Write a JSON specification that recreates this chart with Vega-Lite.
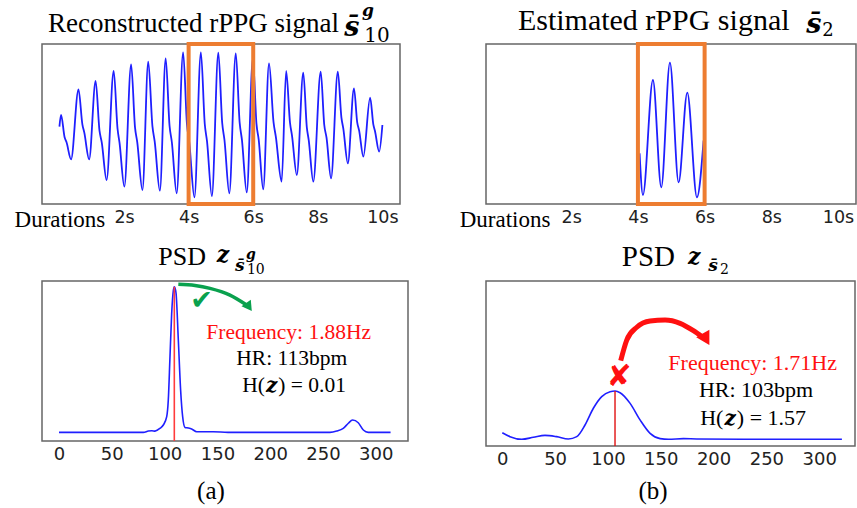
{
  "$schema": "https://vega.github.io/schema/vega-lite/v6.json",
  "background": "white",
  "padding": {"left": 13, "top": 0, "right": 2, "bottom": 2},
  "bounds": "flush",
  "columns": 2,
  "spacing": {"row": 77, "column": 78},
  "config": {
    "view": {"stroke": "#666666", "strokeWidth": 1.5},
    "axis": {"grid": false, "domain": false, "ticks": false, "tickSize": 0, "labelFlush": false, "labelOverlap": false}
  },
  "concat": [
        {
          "width": 358,
          "height": 160,
          "encoding": {
            "x": {"field": "t", "type": "quantitative", "scale": {"domain": [-0.54, 10.545], "nice": false, "zero": false},
              "axis": {"title": null, "values": [0, 2, 4, 6, 8, 10], "labelPadding": 4,
                "labelExpr": "datum.value == 0 ? 'Durations' : datum.value + 's'",
                "labelFont": {"condition": {"test": "datum.value == 0", "value": "Liberation Serif"}, "value": "DejaVu Sans"},
                "labelFontSize": {"condition": {"test": "datum.value == 0", "value": 23}, "value": 17.5},
                "labelColor": {"condition": {"test": "datum.value == 0", "value": "#000000"}, "value": "#222222"}}},
            "y": {"field": "v", "type": "quantitative", "scale": {"domain": [-2.37, 2.43], "nice": false, "zero": false}, "axis": null}
          },
          "layer": [
            {
              "data": {"values": [
                {"t": 0.00, "v": -0.05}, {"t": 0.05, "v": 0.30}, {"t": 0.16, "v": -0.37}, {"t": 0.22, "v": -0.52}, {"t": 0.36, "v": -1.03},
                {"t": 0.59, "v": 1.07}, {"t": 0.71, "v": 0.02}, {"t": 0.77, "v": -0.23}, {"t": 0.92, "v": -1.03},
                {"t": 1.12, "v": 1.32}, {"t": 1.24, "v": -0.17}, {"t": 1.31, "v": -0.52}, {"t": 1.46, "v": -1.65},
                {"t": 1.68, "v": 1.62}, {"t": 1.80, "v": -0.12}, {"t": 1.86, "v": -0.53}, {"t": 2.01, "v": -1.85},
                {"t": 2.22, "v": 1.82}, {"t": 2.34, "v": -0.07}, {"t": 2.41, "v": -0.52}, {"t": 2.57, "v": -1.95},
                {"t": 2.75, "v": 1.90}, {"t": 2.88, "v": -0.04}, {"t": 2.95, "v": -0.50}, {"t": 3.11, "v": -1.97},
                {"t": 3.29, "v": 2.00}, {"t": 3.41, "v": -0.03}, {"t": 3.48, "v": -0.51}, {"t": 3.63, "v": -2.05},
                {"t": 3.83, "v": 2.18}, {"t": 3.95, "v": 0.01}, {"t": 4.02, "v": -0.52}, {"t": 4.18, "v": -2.17},
                {"t": 4.38, "v": 2.18}, {"t": 4.50, "v": 0.03}, {"t": 4.57, "v": -0.49}, {"t": 4.72, "v": -2.13},
                {"t": 4.92, "v": 2.17}, {"t": 5.04, "v": 0.06}, {"t": 5.11, "v": -0.45}, {"t": 5.26, "v": -2.05},
                {"t": 5.46, "v": 2.15}, {"t": 5.58, "v": 0.07}, {"t": 5.65, "v": -0.44}, {"t": 5.80, "v": -2.02},
                {"t": 5.99, "v": 2.00}, {"t": 6.10, "v": 0.04}, {"t": 6.17, "v": -0.44}, {"t": 6.31, "v": -1.93},
                {"t": 6.49, "v": 1.85}, {"t": 6.63, "v": 0.08}, {"t": 6.70, "v": -0.35}, {"t": 6.88, "v": -1.70},
                {"t": 7.02, "v": 1.62}, {"t": 7.14, "v": 0.06}, {"t": 7.20, "v": -0.31}, {"t": 7.35, "v": -1.50},
                {"t": 7.55, "v": 1.57}, {"t": 7.66, "v": -0.07}, {"t": 7.72, "v": -0.46}, {"t": 7.86, "v": -1.70},
                {"t": 8.09, "v": 1.60}, {"t": 8.20, "v": 0.00}, {"t": 8.27, "v": -0.38}, {"t": 8.41, "v": -1.60},
                {"t": 8.62, "v": 1.60}, {"t": 8.73, "v": 0.23}, {"t": 8.79, "v": -0.11}, {"t": 8.93, "v": -1.15},
                {"t": 9.12, "v": 1.10}, {"t": 9.22, "v": 0.08}, {"t": 9.28, "v": -0.17}, {"t": 9.41, "v": -0.95},
                {"t": 9.62, "v": 0.82}, {"t": 9.72, "v": 0.01}, {"t": 9.77, "v": -0.18}, {"t": 9.90, "v": -0.80},
                {"t": 10.0, "v": 0.0}
              ]},
              "mark": {"type": "line", "interpolate": "monotone", "color": "#1f1fff", "strokeWidth": 1.8}
            },
            {
              "data": {"values": [{"t": 4, "t2": 6, "v": -2.37, "v2": 2.43}]},
              "mark": {"type": "rect", "fill": null, "fillOpacity": 0, "stroke": "#ed7d31", "strokeWidth": 4},
              "encoding": {"x2": {"field": "t2"}, "y2": {"field": "v2"}}
            },
            {
              "data": {"values": [{"t": -0.353, "v": 2.79, "label": "Reconstructed rPPG signal"}]},
              "mark": {"type": "text", "font": "Liberation Serif", "fontSize": 27, "align": "left", "baseline": "alphabetic", "color": "#000000"},
              "encoding": {"text": {"field": "label"}}
            },
            {
              "data": {"values": [{"t": 8.82, "v": 2.67, "label": "s\u0304"}]},
              "mark": {"type": "text", "font": "DejaVu Serif", "fontSize": 27, "fontWeight": "bold", "fontStyle": "italic", "align": "left", "baseline": "alphabetic", "color": "#000000"},
              "encoding": {"text": {"field": "label"}}
            },
            {
              "data": {"values": [{"t": 9.37, "v": 3.285, "label": "g"}]},
              "mark": {"type": "text", "font": "DejaVu Serif", "fontSize": 17, "fontWeight": "bold", "fontStyle": "italic", "align": "left", "baseline": "alphabetic", "color": "#000000"},
              "encoding": {"text": {"field": "label"}}
            },
            {
              "data": {"values": [{"t": 9.44, "v": 2.50, "label": "10"}]},
              "mark": {"type": "text", "font": "DejaVu Serif", "fontSize": 20, "align": "left", "baseline": "alphabetic", "color": "#000000"},
              "encoding": {"text": {"field": "label"}}
            }
          ]
        },
        {
          "width": 370,
          "height": 160,
          "encoding": {
            "x": {"field": "t", "type": "quantitative", "scale": {"domain": [-0.556, 10.54], "nice": false, "zero": false},
              "axis": {"title": null, "values": [0, 2, 4, 6, 8, 10], "labelPadding": 4,
                "labelExpr": "datum.value == 0 ? 'Durations' : datum.value + 's'",
                "labelFont": {"condition": {"test": "datum.value == 0", "value": "Liberation Serif"}, "value": "DejaVu Sans"},
                "labelFontSize": {"condition": {"test": "datum.value == 0", "value": 23}, "value": 17.5},
                "labelColor": {"condition": {"test": "datum.value == 0", "value": "#000000"}, "value": "#222222"}}},
            "y": {"field": "v", "type": "quantitative", "scale": {"domain": [-2.42, 2.38], "nice": false, "zero": false}, "axis": null}
          },
          "layer": [
            {
              "data": {"values": [
                {"t": 4.05, "v": -0.90}, {"t": 4.15, "v": -2.15}, {"t": 4.45, "v": 1.30}, {"t": 4.70, "v": -1.92},
                {"t": 4.96, "v": 1.82}, {"t": 5.22, "v": -1.77}, {"t": 5.48, "v": 0.92}, {"t": 5.77, "v": -2.22},
                {"t": 5.97, "v": -0.52}
              ]},
              "mark": {"type": "line", "interpolate": "monotone", "color": "#1f1fff", "strokeWidth": 1.8}
            },
            {
              "data": {"values": [{"t": 4, "t2": 6, "v": -2.42, "v2": 2.38}]},
              "mark": {"type": "rect", "fill": null, "fillOpacity": 0, "stroke": "#ed7d31", "strokeWidth": 4},
              "encoding": {"x2": {"field": "t2"}, "y2": {"field": "v2"}}
            },
            {
              "data": {"values": [{"t": 0.40, "v": 2.80, "label": "Estimated rPPG signal"}]},
              "mark": {"type": "text", "font": "Liberation Serif", "fontSize": 30, "align": "left", "baseline": "alphabetic", "color": "#000000"},
              "encoding": {"text": {"field": "label"}}
            },
            {
              "data": {"values": [{"t": 9.05, "v": 2.71, "label": "s\u0304"}]},
              "mark": {"type": "text", "font": "DejaVu Serif", "fontSize": 27, "fontWeight": "bold", "fontStyle": "italic", "align": "left", "baseline": "alphabetic", "color": "#000000"},
              "encoding": {"text": {"field": "label"}}
            },
            {
              "data": {"values": [{"t": 9.53, "v": 2.62, "label": "2"}]},
              "mark": {"type": "text", "font": "DejaVu Serif", "fontSize": 18, "align": "left", "baseline": "alphabetic", "color": "#000000"},
              "encoding": {"text": {"field": "label"}}
            }
          ]
        },
        {
          "width": 366,
          "height": 160,
          "encoding": {
            "x": {"field": "f", "type": "quantitative", "scale": {"domain": [-16.1, 330.5], "nice": false, "zero": false},
              "axis": {"title": null, "values": [0, 50, 100, 150, 200, 250, 300], "labelPadding": 4, "labelFont": "DejaVu Sans", "labelFontSize": 18, "labelColor": "#222222"}},
            "y": {"field": "v", "type": "quantitative", "scale": {"domain": [-0.006, 0.994], "nice": false, "zero": false}, "axis": null}
          },
          "layer": [
            {
              "data": {"values": [
                {"f": 0, "v": 0.048}, {"f": 40, "v": 0.048}, {"f": 79.9, "v": 0.048}, {"f": 84.6, "v": 0.056}, {"f": 88, "v": 0.058},
                {"f": 90.9, "v": 0.056}, {"f": 95.6, "v": 0.073}, {"f": 98.8, "v": 0.094}, {"f": 102, "v": 0.146}, {"f": 103.5, "v": 0.25},
                {"f": 105.1, "v": 0.52}, {"f": 106.7, "v": 0.79}, {"f": 108.3, "v": 0.935}, {"f": 109.3, "v": 0.958}, {"f": 110.8, "v": 0.92},
                {"f": 113, "v": 0.625}, {"f": 115.2, "v": 0.31}, {"f": 117.1, "v": 0.146}, {"f": 119.3, "v": 0.079}, {"f": 122.4, "v": 0.075},
                {"f": 125.6, "v": 0.069}, {"f": 130.4, "v": 0.052}, {"f": 146, "v": 0.052}, {"f": 160, "v": 0.048}, {"f": 256.6, "v": 0.048},
                {"f": 263, "v": 0.056}, {"f": 269.2, "v": 0.073}, {"f": 274, "v": 0.105}, {"f": 278, "v": 0.125}, {"f": 283.4, "v": 0.108},
                {"f": 288.2, "v": 0.0625}, {"f": 292.9, "v": 0.048}, {"f": 314, "v": 0.048}
              ]},
              "mark": {"type": "line", "interpolate": "monotone", "color": "#1f1fff", "strokeWidth": 1.6}
            },
            {
              "data": {"values": [{"f": 109.2, "v": -0.006, "v2": 0.958}]},
              "mark": {"type": "rule", "color": "#ff3b3b", "strokeWidth": 1.6},
              "encoding": {"y2": {"field": "v2"}}
            },
            {
              "data": {"values": [{"f": 113, "v": 0.973}, {"f": 128.8, "v": 0.966}, {"f": 143, "v": 0.948}, {"f": 161.9, "v": 0.906}, {"f": 177.7, "v": 0.844}]},
              "mark": {"type": "line", "interpolate": "monotone", "color": "#0aa14e", "strokeWidth": 3.5}
            },
            {
              "data": {"values": [{"f": 179.9, "v": 0.831}]},
              "mark": {"type": "point", "shape": "triangle-up", "filled": true, "color": "#0aa14e", "size": 130, "angle": 145, "opacity": 1}
            },
            {
              "data": {"values": [{"f": 134.9, "v": 0.866, "label": "\u2714"}]},
              "mark": {"type": "text", "font": "DejaVu Sans", "fontSize": 27, "align": "center", "baseline": "middle", "color": "#0aa14e"},
              "encoding": {"text": {"field": "label"}}
            },
            {
              "data": {"values": [{"f": 94.0, "v": 1.092, "label": "PSD"}]},
              "mark": {"type": "text", "font": "Liberation Serif", "fontSize": 26, "align": "left", "baseline": "alphabetic", "color": "#000000"},
              "encoding": {"text": {"field": "label"}}
            },
            {
              "data": {"values": [{"f": 149.3, "v": 1.1125, "label": "z"}]},
              "mark": {"type": "text", "font": "DejaVu Serif", "fontSize": 22, "fontWeight": "bold", "fontStyle": "italic", "align": "left", "baseline": "alphabetic", "color": "#000000"},
              "encoding": {"text": {"field": "label"}}
            },
            {
              "data": {"values": [{"f": 166.7, "v": 1.058, "label": "s\u0304"}]},
              "mark": {"type": "text", "font": "DejaVu Serif", "fontSize": 17, "fontWeight": "bold", "fontStyle": "italic", "align": "left", "baseline": "alphabetic", "color": "#000000"},
              "encoding": {"text": {"field": "label"}}
            },
            {
              "data": {"values": [{"f": 177.1, "v": 1.134, "label": "g"}]},
              "mark": {"type": "text", "font": "DejaVu Serif", "fontSize": 14, "fontWeight": "bold", "fontStyle": "italic", "align": "left", "baseline": "alphabetic", "color": "#000000"},
              "encoding": {"text": {"field": "label"}}
            },
            {
              "data": {"values": [{"f": 178, "v": 1.0375, "label": "10"}]},
              "mark": {"type": "text", "font": "DejaVu Serif", "fontSize": 14, "align": "left", "baseline": "alphabetic", "color": "#000000"},
              "encoding": {"text": {"field": "label"}}
            },
            {
              "data": {"values": [{"f": 217.5, "v": 0.629, "label": "Frequency: 1.88Hz"}]},
              "mark": {"type": "text", "font": "Liberation Serif", "fontSize": 21.5, "align": "center", "baseline": "alphabetic", "color": "#ff1010"},
              "encoding": {"text": {"field": "label"}}
            },
            {
              "data": {"values": [{"f": 220.4, "v": 0.469, "label": "HR: 113bpm"}]},
              "mark": {"type": "text", "font": "Liberation Serif", "fontSize": 21.5, "align": "center", "baseline": "alphabetic", "color": "#000000"},
              "encoding": {"text": {"field": "label"}}
            },
            {
              "data": {"values": [{"f": 195.1, "v": 0.302, "label": "H("}]},
              "mark": {"type": "text", "font": "Liberation Serif", "fontSize": 21.5, "align": "right", "baseline": "alphabetic", "color": "#000000"},
              "encoding": {"text": {"field": "label"}}
            },
            {
              "data": {"values": [{"f": 201.4, "v": 0.302, "label": "z"}]},
              "mark": {"type": "text", "font": "DejaVu Serif", "fontSize": 20, "fontWeight": "bold", "fontStyle": "italic", "align": "center", "baseline": "alphabetic", "color": "#000000"},
              "encoding": {"text": {"field": "label"}}
            },
            {
              "data": {"values": [{"f": 207.7, "v": 0.302, "label": ") = 0.01"}]},
              "mark": {"type": "text", "font": "Liberation Serif", "fontSize": 21.5, "align": "left", "baseline": "alphabetic", "color": "#000000"},
              "encoding": {"text": {"field": "label"}}
            },
            {
              "data": {"values": [{"f": 143.9, "v": -0.3675, "label": "(a)"}]},
              "mark": {"type": "text", "font": "Liberation Serif", "fontSize": 25, "align": "center", "baseline": "alphabetic", "color": "#000000"},
              "encoding": {"text": {"field": "label"}}
            }
          ]
        },
        {
          "width": 369,
          "height": 165,
          "encoding": {
            "x": {"field": "f", "type": "quantitative", "scale": {"domain": [-15.44, 333.9], "nice": false, "zero": false},
              "axis": {"title": null, "values": [0, 50, 100, 150, 200, 250, 300], "labelPadding": 4, "labelFont": "DejaVu Sans", "labelFontSize": 18, "labelColor": "#222222"}},
            "y": {"field": "v", "type": "quantitative", "scale": {"domain": [0.004, 1.01], "nice": false, "zero": false}, "axis": null}
          },
          "layer": [
            {
              "data": {"values": [
                {"f": 0, "v": 0.085}, {"f": 7.3, "v": 0.061}, {"f": 18.4, "v": 0.045}, {"f": 29.4, "v": 0.057}, {"f": 40.4, "v": 0.069},
                {"f": 51.5, "v": 0.061}, {"f": 62.5, "v": 0.047}, {"f": 70.5, "v": 0.061}, {"f": 78.3, "v": 0.132}, {"f": 86.2, "v": 0.234},
                {"f": 94.1, "v": 0.305}, {"f": 102, "v": 0.335}, {"f": 106.8, "v": 0.339}, {"f": 111.5, "v": 0.329}, {"f": 121, "v": 0.264},
                {"f": 130.4, "v": 0.163}, {"f": 139.9, "v": 0.081}, {"f": 149.4, "v": 0.049}, {"f": 157.3, "v": 0.045}, {"f": 171.5, "v": 0.049},
                {"f": 184.1, "v": 0.047}, {"f": 250, "v": 0.045}, {"f": 321.5, "v": 0.045}
              ]},
              "mark": {"type": "line", "interpolate": "monotone", "color": "#1f1fff", "strokeWidth": 1.6}
            },
            {
              "data": {"values": [{"f": 106.7, "v": 0.004, "v2": 0.339}]},
              "mark": {"type": "rule", "color": "#e01010", "strokeWidth": 1.4},
              "encoding": {"y2": {"field": "v2"}}
            },
            {
              "data": {"values": [{"f": 112.1, "v": 0.524}, {"f": 117.8, "v": 0.650}, {"f": 127.3, "v": 0.728}, {"f": 139.9, "v": 0.766}, {"f": 154.1, "v": 0.772}, {"f": 168.3, "v": 0.752}, {"f": 180.9, "v": 0.707}, {"f": 188.9, "v": 0.671}]},
              "mark": {"type": "line", "interpolate": "monotone", "color": "#ff1010", "strokeWidth": 5}
            },
            {
              "data": {"values": [{"f": 192.9, "v": 0.655}]},
              "mark": {"type": "point", "shape": "triangle-up", "filled": true, "color": "#ff1010", "size": 230, "angle": 150, "opacity": 1}
            },
            {
              "data": {"values": [{"f": 110.5, "v": 0.423, "label": "\u2718"}]},
              "mark": {"type": "text", "font": "DejaVu Sans", "fontSize": 30, "align": "center", "baseline": "middle", "color": "#ff1010"},
              "encoding": {"text": {"field": "label"}}
            },
            {
              "data": {"values": [{"f": 113.1, "v": 1.0996, "label": "PSD"}]},
              "mark": {"type": "text", "font": "Liberation Serif", "fontSize": 29, "align": "left", "baseline": "alphabetic", "color": "#000000"},
              "encoding": {"text": {"field": "label"}}
            },
            {
              "data": {"values": [{"f": 175.9, "v": 1.114, "label": "z"}]},
              "mark": {"type": "text", "font": "DejaVu Serif", "fontSize": 22, "fontWeight": "bold", "fontStyle": "italic", "align": "left", "baseline": "alphabetic", "color": "#000000"},
              "encoding": {"text": {"field": "label"}}
            },
            {
              "data": {"values": [{"f": 194.9, "v": 1.069, "label": "s\u0304"}]},
              "mark": {"type": "text", "font": "DejaVu Serif", "fontSize": 17, "fontWeight": "bold", "fontStyle": "italic", "align": "left", "baseline": "alphabetic", "color": "#000000"},
              "encoding": {"text": {"field": "label"}}
            },
            {
              "data": {"values": [{"f": 206.2, "v": 1.053, "label": "2"}]},
              "mark": {"type": "text", "font": "DejaVu Serif", "fontSize": 14, "align": "left", "baseline": "alphabetic", "color": "#000000"},
              "encoding": {"text": {"field": "label"}}
            },
            {
              "data": {"values": [{"f": 237, "v": 0.4675, "label": "Frequency: 1.71Hz"}]},
              "mark": {"type": "text", "font": "Liberation Serif", "fontSize": 22, "align": "center", "baseline": "alphabetic", "color": "#ff1010"},
              "encoding": {"text": {"field": "label"}}
            },
            {
              "data": {"values": [{"f": 240.2, "v": 0.301, "label": "HR: 103bpm"}]},
              "mark": {"type": "text", "font": "Liberation Serif", "fontSize": 22, "align": "center", "baseline": "alphabetic", "color": "#000000"},
              "encoding": {"text": {"field": "label"}}
            },
            {
              "data": {"values": [{"f": 209.3, "v": 0.132, "label": "H("}]},
              "mark": {"type": "text", "font": "Liberation Serif", "fontSize": 22, "align": "right", "baseline": "alphabetic", "color": "#000000"},
              "encoding": {"text": {"field": "label"}}
            },
            {
              "data": {"values": [{"f": 215.7, "v": 0.132, "label": "z"}]},
              "mark": {"type": "text", "font": "DejaVu Serif", "fontSize": 20, "fontWeight": "bold", "fontStyle": "italic", "align": "center", "baseline": "alphabetic", "color": "#000000"},
              "encoding": {"text": {"field": "label"}}
            },
            {
              "data": {"values": [{"f": 222, "v": 0.132, "label": ") = 1.57"}]},
              "mark": {"type": "text", "font": "Liberation Serif", "fontSize": 22, "align": "left", "baseline": "alphabetic", "color": "#000000"},
              "encoding": {"text": {"field": "label"}}
            },
            {
              "data": {"values": [{"f": 142.7, "v": -0.318, "label": "(b)"}]},
              "mark": {"type": "text", "font": "Liberation Serif", "fontSize": 25, "align": "center", "baseline": "alphabetic", "color": "#000000"},
              "encoding": {"text": {"field": "label"}}
            }
          ]
        }
  ]
}
